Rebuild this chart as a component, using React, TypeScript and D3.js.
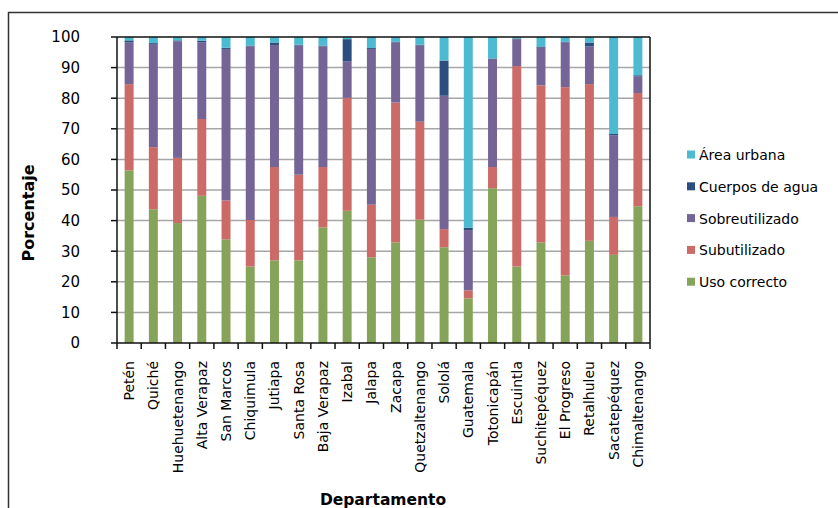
import React from "react";
import * as d3 from "d3";

const departamentos = [
  "Petén", "Quiché", "Huehuetenango", "Alta Verapaz", "San Marcos", "Chiquimula",
  "Jutiapa", "Santa Rosa", "Baja Verapaz", "Izabal", "Jalapa", "Zacapa",
  "Quetzaltenango", "Sololá", "Guatemala", "Totonicapán", "Escuintla",
  "Suchitepéquez", "El Progreso", "Retalhuleu", "Sacatepéquez", "Chimaltenango",
];

const usoCorrecto = [56.4, 43.7, 39.2, 48.1, 33.9, 25.0, 27.0, 27.0, 37.8, 43.2, 28.0, 32.9, 40.3, 31.3, 14.6, 50.6, 25.0, 32.9, 22.1, 33.4, 28.8, 44.7];
const subutilizado = [28.2, 20.3, 21.3, 25.1, 12.7, 15.2, 30.5, 28.0, 19.7, 36.9, 17.2, 45.7, 32.0, 5.9, 2.6, 6.9, 65.5, 51.3, 61.5, 51.2, 12.4, 37.0];
const sobreutilizado = [13.6, 33.7, 38.1, 25.1, 49.5, 56.8, 39.9, 42.2, 39.4, 12.0, 50.9, 19.7, 24.9, 43.6, 19.7, 35.4, 8.8, 12.3, 14.7, 12.3, 26.7, 5.4];
const cuerposAgua = [0.7, 0.3, 0.3, 0.5, 0.4, 0.2, 0.8, 0.3, 0.3, 7.2, 0.3, 0.1, 0.3, 11.5, 0.8, 0.1, 0.2, 0.4, 0.1, 1.3, 0.4, 0.4];
const areaUrbana = [1.1, 2.0, 1.1, 1.2, 3.5, 2.8, 1.8, 2.5, 2.8, 0.7, 3.6, 1.6, 2.5, 7.7, 62.3, 7.0, 0.5, 3.1, 1.6, 1.8, 31.7, 12.5];

const seriesNames = ["Uso correcto", "Subutilizado", "Sobreutilizado", "Cuerpos de agua", "Área urbana"];
const seriesValues = [usoCorrecto, subutilizado, sobreutilizado, cuerposAgua, areaUrbana];
const seriesColors = ["#86A35A", "#CB6A66", "#746596", "#2B4E7E", "#4CBAD1"];
const yTicks = [0, 10, 20, 30, 40, 50, 60, 70, 80, 90, 100];

const FONT = "'DejaVu Sans', Verdana, sans-serif";

export default function App() {
  const W = 838, H = 508;
  const left = 117, right = 650, top = 37, bottom = 343;

  const x = d3.scaleBand<string>().domain(departamentos).range([left, right]).paddingInner(0.63).paddingOuter(0.315);
  const step = (right - left) / departamentos.length;
  const y = d3.scaleLinear().domain([0, 100]).range([bottom, top]);

  const rows = departamentos.map((d, i) => {
    const r: any = { dep: d };
    seriesNames.forEach((s, k) => (r[s] = seriesValues[k][i]));
    return r;
  });
  const stacked = d3.stack<any>().keys(seriesNames)(rows);

  const legendOrder = [4, 3, 2, 1, 0];

  return (
    <svg width={W} height={H} style={{ position: "absolute", left: 0, top: 0, background: "#fff" }} fontFamily={FONT}>
      <rect x={0} y={0} width={W} height={H} fill="#fff" />
      <path d="M8.5,530 V12.5 H850" fill="none" stroke="#333" strokeWidth={1.5} />
      {yTicks.filter((t) => t > 0 && t < 100).map((t) => (
        <line key={t} x1={left} x2={right} y1={y(t)} y2={y(t)} stroke="#A6A6A6" strokeWidth={1.5} />
      ))}
      {stacked.map((layer, k) => (
        <g key={k} fill={seriesColors[k]}>
          {layer.map((seg, i) => (
            <rect key={i} x={x(departamentos[i])} width={x.bandwidth()} y={y(seg[1])} height={Math.max(0, y(seg[0]) - y(seg[1]))} />
          ))}
        </g>
      ))}
      <line x1={left} x2={right} y1={top} y2={top} stroke="#111" strokeWidth={1.5} />
      <line x1={right} x2={right} y1={top} y2={bottom} stroke="#111" strokeWidth={1.5} />
      <line x1={left} x2={left} y1={top} y2={bottom} stroke="#111" strokeWidth={1.5} />
      <line x1={left} x2={right} y1={bottom} y2={bottom} stroke="#111" strokeWidth={1.5} />
      {yTicks.map((t) => (
        <g key={t}>
          <line x1={left - 6} x2={left} y1={y(t)} y2={y(t)} stroke="#111" strokeWidth={1.5} />
          <text x={80} y={y(t)} dy="0.36em" textAnchor="end" fontSize={15} fill="#000">{t}</text>
        </g>
      ))}
      {d3.range(departamentos.length + 1).map((i) => (
        <line key={i} x1={left + i * step} x2={left + i * step} y1={bottom} y2={bottom + 6} stroke="#111" strokeWidth={1.5} />
      ))}
      {departamentos.map((d) => {
        const cx = (x(d) as number) + x.bandwidth() / 2;
        return (
          <text key={d} transform={`translate(${cx + 5},${361}) rotate(-90)`} textAnchor="end" fontSize={14} fill="#000">{d}</text>
        );
      })}
      <text transform={`translate(34,213) rotate(-90)`} textAnchor="middle" fontSize={16} fontWeight="bold" fill="#000">Porcentaje</text>
      <text x={383} y={505} textAnchor="middle" fontSize={15.5} fontWeight="bold" fill="#000">Departamento</text>
      {legendOrder.map((k, j) => {
        const cy = 155 + j * 31.8;
        return (
          <g key={k}>
            <rect x={687} y={cy - 4.5} width={8} height={8} fill={seriesColors[k]} />
            <text x={699} y={cy} dy="0.36em" fontSize={14} fill="#000">{seriesNames[k]}</text>
          </g>
        );
      })}
    </svg>
  );
}
